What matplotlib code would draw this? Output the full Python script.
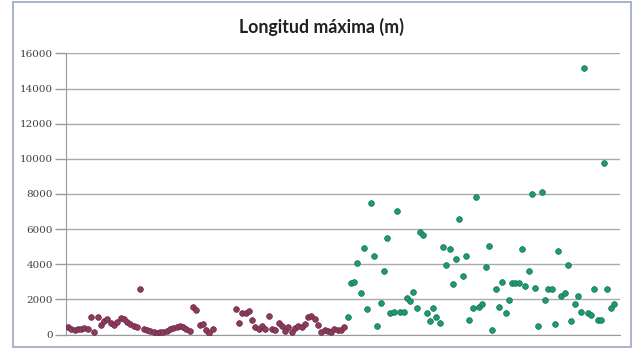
import numpy as np
import matplotlib
matplotlib.use("Agg")
import matplotlib.pyplot as plt
from matplotlib.patches import Rectangle

# ---- data ----
title = "Longitud máxima (m)"
y_ticks = [0, 2000, 4000, 6000, 8000, 10000, 12000, 14000, 16000]

nan = np.nan
maroon_values = [
    446, 296, 256, 300, 296, 353, 330, 1016, 160, 1016,
    541, 750, 883, 650, 541, 730, 923, 866, 700, 600,
    500, 400, 2575, 330, 250, 180, 125, 103, 130, 150,
    200, 300, 380, 450, 480, 400, 300, 220, 1550, 1396,
    541, 598, 256, 103, 296, nan, nan, nan, nan, nan,
    nan, 1430, 673, 1200, 1208, 1356, 826, 400, 296, 485,
    300, 1054, 300, 256, 673, 500, 200, 450, 160, 350,
    485, 420, 600, 980, 1054, 866, 550, 130, 256, 180,
    160, 300, 256, 256, 446,
]

green_values = [
    1016, 2940, 3010, 4090, 2380, 4900, 1430, 7510, 4470, 480,
    1810, 3620, 5480, 1210, 1300, 7060, 1300, 1300, 2070, 1880,
    2440, 1490, 5860, 5670, 1250, 790, 1490, 1020, 640, 4960,
    3950, 4850, 2860, 4310, 6560, 3330, 4470, 830, 1490, 7810,
    1570, 1760, 3870, 5060, 260, 2570, 1570, 3010, 1210, 1970,
    2950, 2950, 2940, 4850, 2750, 3600, 8010, 2660, 480, 8140,
    1970, 2570, 2570, 600, 4780, 2190, 2380, 3930, 790, 1760,
    2190, 1300, 15170, 1210, 1100, 2570, 830, 830, 9790, 2570,
    1490, 1740,
]

# ---- figure ----
W, H = 636, 348
fig = plt.figure(figsize=(W / 100, H / 100), dpi=100)
fig.patch.set_facecolor("white")

# outer chart frame
fig.patches.append(Rectangle((12.5 / W, 1.5 / H), (631 - 12.5) / W, (346 - 1.5) / H,
                             transform=fig.transFigure, fill=False,
                             edgecolor="#A9B1CC", linewidth=1.4))

ax = fig.add_axes([66 / W, 1 - 334.5 / H, (620 - 66) / W, (334.5 - 53.5) / H])

n_m = len(maroon_values)
n_g = len(green_values)
x_m = np.arange(1, n_m + 1)
x_g = np.arange(n_m + 1, n_m + n_g + 1)

ax.scatter(x_m, maroon_values, s=17, color="#8E3A5C", edgecolors="#6A2A45",
           linewidths=0.5, zorder=3)
ax.scatter(x_g, green_values, s=17, color="#1C9C6C", edgecolors="#16704E",
           linewidths=0.5, zorder=3)

total = n_m + n_g
ax.set_xlim(0.4, total + 1.8)
ax.set_ylim(0, 16000)
ax.set_yticks(y_ticks)
ax.set_yticklabels([str(v) for v in y_ticks], fontsize=7.5, color="#404040",
                   family="DejaVu Serif")
ax.set_xticks([])

ax.grid(axis="y", color="#ABABAB", linewidth=1.0)
ax.set_axisbelow(True)
for s in ["top", "right"]:
    ax.spines[s].set_visible(False)
ax.spines["left"].set_color("#9A9A9A")
ax.spines["bottom"].set_color("#9A9A9A")
ax.tick_params(axis="y", length=8, width=1.0, color="#9A9A9A", pad=1.5)

fig.text(321 / W, 1 - 27 / H, title, ha="center", va="center",
         fontsize=12.8, fontweight="bold", color="#202020", family="Lato")

fig.savefig("out.png", dpi=100)
